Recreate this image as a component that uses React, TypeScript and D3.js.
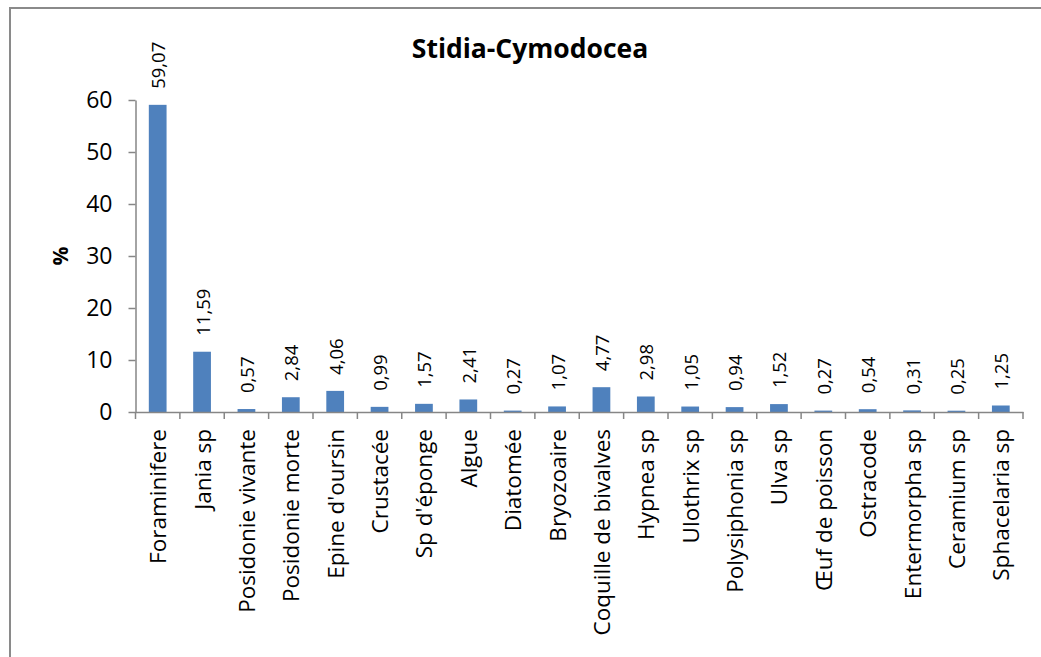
import React, { useRef, useEffect } from "react";
import * as d3 from "d3";

const categories = [
    "Foraminifere",
    "Jania sp",
    "Posidonie vivante",
    "Posidonie morte",
    "Epine d'oursin",
    "Crustacée",
    "Sp d'éponge",
    "Algue",
    "Diatomée",
    "Bryozoaire",
    "Coquille de bivalves",
    "Hypnea sp",
    "Ulothrix sp",
    "Polysiphonia sp",
    "Ulva sp",
    "Œuf de poisson",
    "Ostracode",
    "Entermorpha sp",
    "Ceramium sp",
    "Sphacelaria sp",
];

const values = [
    59.07, 11.59, 0.57, 2.84, 4.06, 0.99, 1.57, 2.41, 0.27, 1.07, 4.77, 2.98,
    1.05, 0.94, 1.52, 0.27, 0.54, 0.31, 0.25, 1.25,
];

const yTicks = [0, 10, 20, 30, 40, 50, 60];

const title = "Stidia-Cymodocea";
const yTitle = "%";

export default function App() {
    const svgRef = useRef<SVGSVGElement | null>(null);

    useEffect(() => {
        if (!svgRef.current) return;

        const width = 1041;
        const height = 657;
        const left = 135.5;
        const right = 1023;
        const top = 100;
        const bottom = 412;
        const axisColor = "#868686";
        const font = "'Open Sans', sans-serif";

        const svg = d3.select(svgRef.current);
        svg.selectAll("*").remove();

        // chart frame
        svg.append("rect")
            .attr("x", 10)
            .attr("y", 8)
            .attr("width", width + 50)
            .attr("height", height + 50)
            .attr("fill", "white")
            .attr("stroke", "#8a8a8a")
            .attr("stroke-width", 2);

        const x = d3.scaleBand<string>().domain(categories).range([left, right]);
        const y = d3.scaleLinear().domain([0, 60]).range([bottom, top]);
        const bw = x.bandwidth();

        // bars
        svg.append("g")
            .selectAll("rect")
            .data(values)
            .join("rect")
            .attr("x", (_d, i) => (x(categories[i]) as number) + bw * 0.3)
            .attr("y", (d) => y(d))
            .attr("width", bw * 0.4)
            .attr("height", (d) => bottom - y(d))
            .attr("fill", "#4F81BD");

        // value labels
        const fmt = (v: number) => v.toFixed(2).replace(".", ",");
        svg.append("g")
            .selectAll("text")
            .data(values)
            .join("text")
            .attr("transform", (d, i) => {
                const cx = (x(categories[i]) as number) + bw / 2;
                return `translate(${cx},${y(d) - 16}) rotate(-90)`;
            })
            .attr("text-anchor", "start")
            .attr("dominant-baseline", "central")
            .attr("font-family", font)
            .attr("font-size", 18.5)
            .attr("fill", "#000")
            .text((d) => fmt(d));

        // y axis
        const yAxis = svg.append("g")
            .attr("transform", `translate(${left},0)`)
            .call(d3.axisLeft(y).tickValues(yTicks).tickSize(7).tickSizeOuter(0).tickPadding(16));
        yAxis.select(".domain").attr("stroke", axisColor).attr("stroke-width", 1.5);
        yAxis.selectAll(".tick line").attr("stroke", axisColor).attr("stroke-width", 1.5);
        yAxis.selectAll(".tick text")
            .attr("font-family", font)
            .attr("font-size", 23)
            .attr("fill", "#000");

        // x axis
        const xAxis = svg.append("g")
            .attr("transform", `translate(0,${bottom})`)
            .call(d3.axisBottom(x).tickSize(0).tickSizeOuter(0));
        xAxis.select(".domain").attr("stroke", axisColor).attr("stroke-width", 1.5);
        xAxis.selectAll(".tick text")
            .attr("font-family", font)
            .attr("font-size", 22.5)
            .attr("fill", "#000")
            .attr("transform", "rotate(-90)")
            .attr("text-anchor", "end")
            .attr("dominant-baseline", "central")
            .attr("x", -17)
            .attr("y", 0)
            .attr("dy", null);

        // category boundary ticks
        const bounds = categories.map((c) => x(c) as number).concat([right]);
        svg.append("g")
            .selectAll("line")
            .data(bounds)
            .join("line")
            .attr("x1", (d) => d)
            .attr("x2", (d) => d)
            .attr("y1", bottom)
            .attr("y2", bottom + 7)
            .attr("stroke", axisColor)
            .attr("stroke-width", 1.5);

        // titles
        svg.append("text")
            .attr("x", 530)
            .attr("y", 58)
            .attr("text-anchor", "middle")
            .attr("font-family", font)
            .attr("font-weight", "bold")
            .attr("font-size", 26.5)
            .text(title);

        svg.append("text")
            .attr("transform", "translate(60,256) rotate(-90)")
            .attr("text-anchor", "middle")
            .attr("dominant-baseline", "central")
            .attr("font-family", font)
            .attr("font-weight", "bold")
            .attr("font-size", 21)
            .text(yTitle);
    }, []);

    return (
        <svg
            ref={svgRef}
            width={1041}
            height={657}
            style={{ position: "absolute", left: 0, top: 0, background: "white" }}
        ></svg>
    );
}
